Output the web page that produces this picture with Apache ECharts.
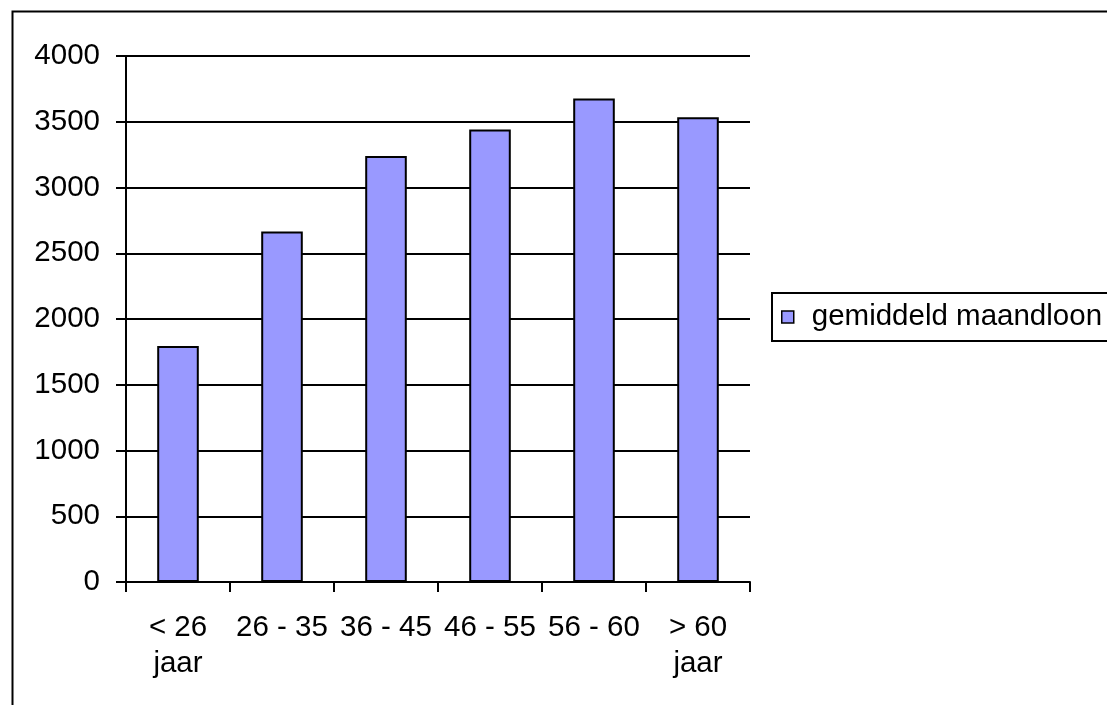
<!DOCTYPE html>
<html>
<head>
<meta charset="utf-8">
<script src="https://cdn.jsdelivr.net/npm/echarts@6/dist/echarts.min.js"></script>
<style>
  html, body { margin: 0; padding: 0; background: #fff; }
  #main { width: 1107px; height: 705px; }
</style>
</head>
<body>
<div id="main"></div>
<script>
// leeftijdsgroepen en gemiddeld maandloon
var categories = ["< 26\njaar", "26 - 35", "36 - 45", "46 - 55", "56 - 60", "> 60\njaar"];
var maandloon = [1795, 2665, 3240, 3442, 3676, 3534];
var seriesName = "gemiddeld maandloon";

var font = "'Liberation Sans', Arial, sans-serif";
var chart = echarts.init(document.getElementById("main"));

chart.setOption({
  backgroundColor: "#fff",
  animation: false,
  textStyle: { fontFamily: font },
  // rand om de hele grafiek
  graphic: [{
    type: "rect",
    left: 10,
    top: 9,
    shape: { width: 1200, height: 800 },
    style: { fill: "none", stroke: "#000", lineWidth: 2 },
    silent: true
  }],
  grid: { left: 126, top: 56, right: 357, bottom: 123 },
  legend: {
    data: [seriesName],
    left: 772,
    top: 293,
    orient: "vertical",
    padding: [9, 12, 9, 9],
    borderColor: "#000",
    borderWidth: 2,
    itemWidth: 12,
    itemHeight: 12,
    icon: "rect",
    itemStyle: { borderColor: "#000", borderWidth: 1.5 },
    textStyle: { fontFamily: font, fontSize: 29.5, color: "#000", lineHeight: 29, padding: [0, 0, 0, 13] }
  },
  xAxis: {
    type: "category",
    data: categories,
    boundaryGap: true,
    axisLine: { lineStyle: { color: "#000", width: 2 } },
    axisTick: { show: true, length: 10, interval: 0, lineStyle: { color: "#000", width: 2 } },
    axisLabel: { interval: 0, margin: 28, fontSize: 29.5, lineHeight: 36, color: "#000", fontFamily: font }
  },
  yAxis: {
    type: "value",
    min: 0,
    max: 4000,
    interval: 500,
    axisLine: { show: true, lineStyle: { color: "#000", width: 2 } },
    axisTick: { show: true, length: 10, lineStyle: { color: "#000", width: 2 } },
    axisLabel: {
      margin: 26, fontSize: 29.5, color: "#000", fontFamily: font,
      formatter: function (v) { return String(v); }
    },
    splitLine: { show: true, lineStyle: { color: "#000", width: 2 } }
  },
  series: [{
    name: seriesName,
    type: "bar",
    data: maandloon,
    barWidth: "40%",
    itemStyle: { color: "#9999FF", borderColor: "#000", borderWidth: 2 }
  }]
});
</script>
</body>
</html>
